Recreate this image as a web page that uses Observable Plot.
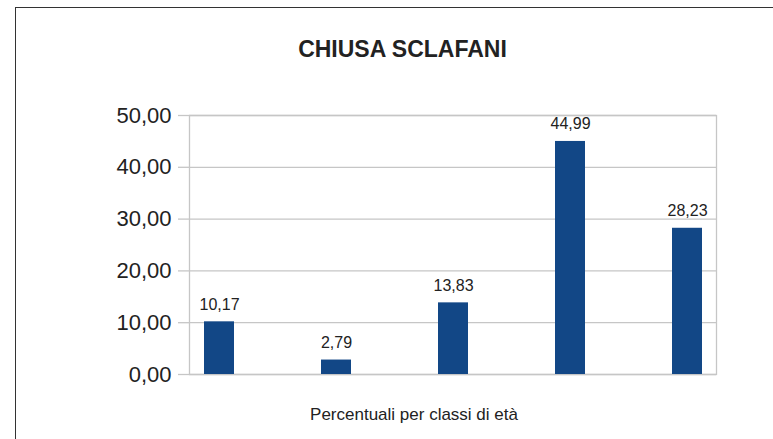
<!DOCTYPE html>
<html>
<head>
<meta charset="utf-8">
<script src="https://cdn.jsdelivr.net/npm/d3@7"></script>
<script src="https://cdn.jsdelivr.net/npm/@observablehq/plot@0.6"></script>
<style>
  html, body { margin: 0; padding: 0; background: #fff; width: 773px; height: 439px; overflow: hidden; }
  #wrap { position: relative; width: 773px; height: 439px; }
  #border { position: absolute; left: 15px; top: 7px; width: 820px; height: 500px; border: 1.5px solid #333; box-sizing: border-box; }
  #chart { position: absolute; left: 0; top: 0; }
</style>
</head>
<body>
<div id="wrap"><div id="border"></div><div id="chart"></div></div>
<script>
const title = "CHIUSA SCLAFANI";
const xLabel = "Percentuali per classi di età";
const categories = ["Classe 1", "Classe 2", "Classe 3", "Classe 4", "Classe 5"];
const values = [10.17, 2.79, 13.83, 44.99, 28.23];
const yTicks = [0, 10, 20, 30, 40, 50];

const data = categories.map((c, i) => ({cat: c, value: values[i]}));
const fmt = (d, n) => d.toFixed(n).replace(".", ",");
const gridColor = "#c6c6c6";
const textColor = "#222";

const chart = Plot.plot({
  width: 773,
  height: 439,
  marginLeft: 189,
  marginRight: 57,
  marginTop: 115,
  marginBottom: 65,
  style: {fontFamily: "'Liberation Sans', Arial, sans-serif", fontSize: "16px", background: "transparent", color: textColor},
  x: {domain: categories, paddingInner: 0.744, paddingOuter: 0.12, axis: null},
  y: {domain: [0, 50], ticks: yTicks, label: null},
  marks: [
    Plot.gridY(yTicks, {stroke: gridColor, strokeOpacity: 1, strokeWidth: 1.3}),
    Plot.frame({stroke: gridColor, strokeWidth: 1.3}),
    Plot.axisY(yTicks, {tickSize: 11, tickPadding: 7, stroke: gridColor, strokeWidth: 1.3, fill: textColor, fontSize: 22, tickFormat: d => fmt(d, 2), label: null}),
    Plot.barY(data, {x: "cat", y: "value", fill: "#124786"}),
    Plot.text(data, {x: "cat", y: "value", text: d => fmt(d.value, 2), dy: -12, lineAnchor: "bottom", fontSize: 16, fill: textColor}),
    Plot.text([title], {text: d => d, frameAnchor: "top", dx: -50.5, dy: -59, lineAnchor: "bottom", fontSize: 23, fontWeight: "bold", fill: textColor}),
    Plot.text([xLabel], {text: d => d, frameAnchor: "bottom", dx: -39, dy: 45, lineAnchor: "bottom", fontSize: 17, fill: textColor})
  ]
});
document.getElementById("chart").appendChild(chart);
</script>
</body>
</html>
